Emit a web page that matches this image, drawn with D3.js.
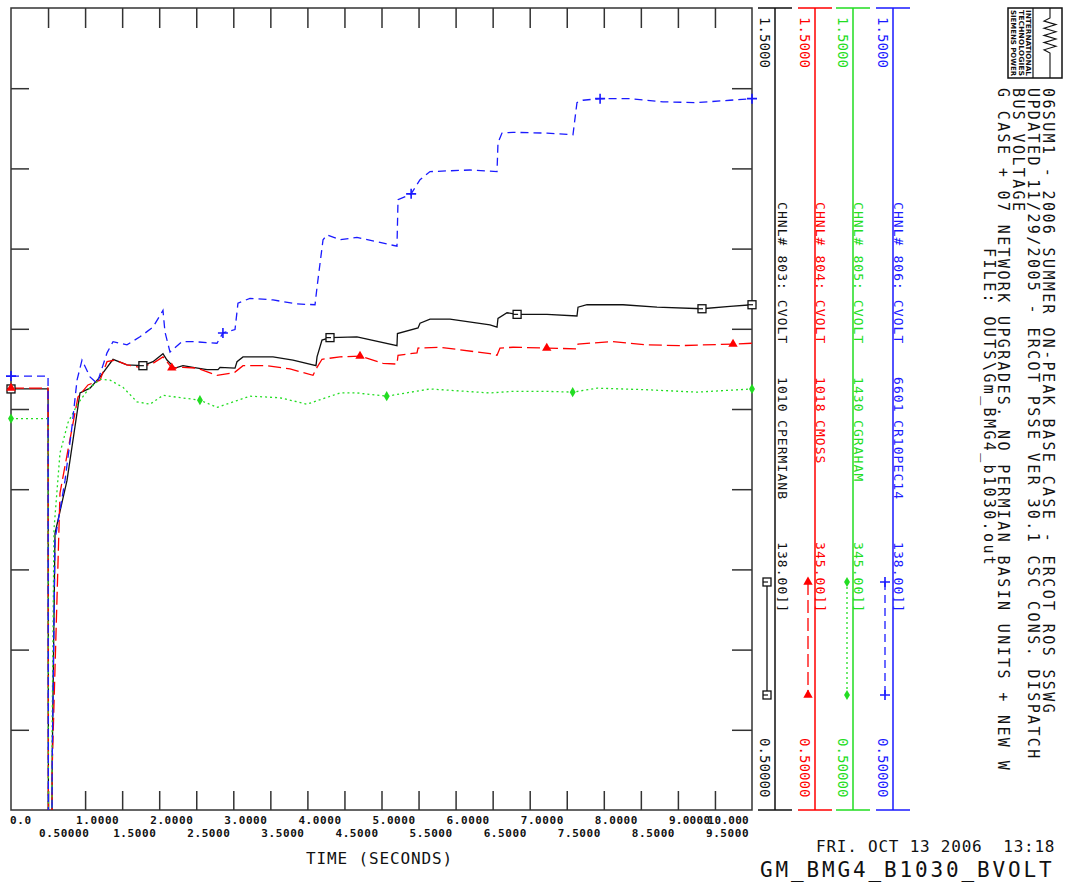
<!DOCTYPE html>
<html lang="en">
<head>
<meta charset="UTF-8">
<title>GM_BMG4_B1030_BVOLT</title>
<script src="https://d3js.org/d3.v7.min.js"></script>
<style>
  body { margin: 0; background: #fff; }
  svg { display: block; }
</style>
</head>
<body>
<svg width="1073" height="884"></svg>
<script>
// ---- data (time in s, voltage in pu) ----
const topTickLabels = ['0.0', '1.0000', '2.0000', '3.0000', '4.0000', '5.0000', '6.0000', '7.0000', '8.0000', '9.0000', '10.000'];
const midTickLabels = ['0.50000', '1.5000', '2.5000', '3.5000', '4.5000', '5.5000', '6.5000', '7.5000', '8.5000', '9.5000'];

const headerLines = [
  '06SUM1 - 2006 SUMMER ON-PEAK BASE CASE - ERCOT ROS SSWG',
  'UPDATED 11/29/2005 - ERCOT PSSE VER 30.1 CSC CONS. DISPATCH',
  'BUS VOLTAGE',
  'G CASE + 07 NETWORK UPGRADES. NO PERMIAN BASIN UNITS + NEW W'
];
const fileLine = 'FILE: OUTS\\Gm_BMG4_b1030.out';
const dateLine = 'FRI. OCT 13 2006  13:18';
const plotName = 'GM_BMG4_B1030_BVOLT';

const channelNames = ['CHNL# 803: CVOLT', 'CHNL# 804: CVOLT', 'CHNL# 805: CVOLT', 'CHNL# 806: CVOLT'];
const busNumbers = ['1010', '1018', '1430', '6601'];
const busNames = ['CPERMIANB', 'CMOSS', 'CGRAHAM', 'CR10PEC14'];
const busKv = ['138.00]]', '345.00]]', '345.00]]', '138.00]]'];
const scaleMax = '1.5000';
const scaleMin = '0.50000';

const chnl803 = [[0,1.025],[0.5,1.025],[0.505,0.40],[0.55,0.40],[0.555,0.55],[0.594,0.845],[0.756,0.911],[0.931,1.020],[1.066,1.026],[1.201,1.040],[1.377,1.062],[1.565,1.055],[1.781,1.054],[1.916,1.059],[2.051,1.069],[2.105,1.061],[2.213,1.051],[2.321,1.054],[2.456,1.052],[2.645,1.049],[2.794,1.049],[2.821,1.052],[3.023,1.051],[3.050,1.059],[3.131,1.065],[3.536,1.065],[3.806,1.061],[4.116,1.054],[4.130,1.065],[4.197,1.086],[4.305,1.089],[4.669,1.090],[5.209,1.079],[5.215,1.094],[5.493,1.101],[5.520,1.107],[5.655,1.112],[5.924,1.112],[6.464,1.105],[6.559,1.102],[6.572,1.113],[6.694,1.120],[6.829,1.118],[7.233,1.118],[7.638,1.116],[7.652,1.127],[7.773,1.130],[8.259,1.130],[8.718,1.127],[9.325,1.125],[9.703,1.128],[10,1.130]];
const chnl804 = [[0,1.026],[0.5,1.026],[0.505,0.40],[0.55,0.40],[0.555,0.55],[0.661,0.895],[0.769,0.949],[0.904,1.015],[1.039,1.030],[1.201,1.036],[1.296,1.059],[1.404,1.061],[1.565,1.055],[1.741,1.052],[1.916,1.057],[2.051,1.065],[2.173,1.051],[2.321,1.052],[2.510,1.051],[2.780,1.042],[2.996,1.045],[3.023,1.046],[3.131,1.054],[3.455,1.054],[3.765,1.050],[4.076,1.042],[4.130,1.052],[4.197,1.062],[4.440,1.065],[4.710,1.066],[5.020,1.057],[5.209,1.056],[5.223,1.067],[5.479,1.070],[5.493,1.076],[5.789,1.077],[6.464,1.069],[6.559,1.067],[6.599,1.076],[6.775,1.077],[7.233,1.076],[7.638,1.075],[7.652,1.081],[8.124,1.084],[8.583,1.080],[9.028,1.079],[9.744,1.081],[10,1.082]];
const chnl805 = [[0,0.988],[0.5,0.988],[0.505,0.40],[0.55,0.40],[0.555,0.60],[0.58,0.85],[0.661,0.945],[0.769,0.983],[0.904,1.007],[1.039,1.024],[1.201,1.037],[1.336,1.036],[1.511,1.027],[1.700,1.009],[1.876,1.006],[2.051,1.017],[2.551,1.011],[2.780,1.002],[3.225,1.016],[3.630,1.014],[3.995,1.006],[4.440,1.020],[4.669,1.020],[5.074,1.016],[5.655,1.025],[6.464,1.020],[6.775,1.022],[7.233,1.022],[7.584,1.021],[7.908,1.026],[8.583,1.024],[9.258,1.021],[10,1.025]];
const chnl806 = [[0,1.041],[0.5,1.041],[0.505,0.40],[0.55,0.40],[0.555,0.55],[0.594,0.837],[0.729,0.911],[0.823,0.978],[0.891,1.036],[0.958,1.061],[1.066,1.040],[1.161,1.032],[1.296,1.070],[1.377,1.084],[1.565,1.080],[1.741,1.090],[1.916,1.102],[2.051,1.123],[2.078,1.096],[2.146,1.071],[2.308,1.084],[2.456,1.084],[2.780,1.082],[2.861,1.095],[3.023,1.099],[3.063,1.132],[3.225,1.138],[3.536,1.136],[3.860,1.131],[4.103,1.130],[4.130,1.152],[4.211,1.211],[4.265,1.217],[4.440,1.211],[4.669,1.214],[5.209,1.203],[5.223,1.261],[5.398,1.268],[5.520,1.286],[5.655,1.296],[6.194,1.298],[6.559,1.296],[6.572,1.332],[6.626,1.344],[6.775,1.345],[7.233,1.344],[7.584,1.342],[7.638,1.382],[7.719,1.385],[7.949,1.387],[8.354,1.387],[8.799,1.383],[9.258,1.382],[9.703,1.385],[10,1.387]];

const markers803 = [0, 1.78, 4.305, 6.83, 9.325, 10];
const markers804 = [0, 2.17, 4.71, 7.23, 9.744];
const markers805 = [0, 2.55, 5.07, 7.58, 10];
const markers806 = [0, 2.86, 5.40, 7.95, 10];

// ---- setup ----
const svg = d3.select('svg');
const plot = { left: 11, right: 752, top: 8, bottom: 810 };
const x = d3.scaleLinear().domain([0, 10]).range([plot.left, plot.right]);
const y = d3.scaleLinear().domain([0.5, 1.5]).range([plot.bottom, plot.top]);
const mono = "'DejaVu Sans Mono', 'Liberation Mono', monospace";

const series = [
  { data: chnl803, marks: markers803, color: '#111111', dash: null, shape: 'square' },
  { data: chnl804, marks: markers804, color: '#ff0000', dash: '13,5', shape: 'triangle' },
  { data: chnl805, marks: markers805, color: '#22dd22', dash: '2,3', shape: 'diamond' },
  { data: chnl806, marks: markers806, color: '#1a1aff', dash: '8,5', shape: 'plus' }
];

// text with a fixed advance per character
function monoText(g, str, px, py, size, adv, opts = {}) {
  const t = g.append('text')
    .attr('font-family', mono)
    .attr('font-size', size)
    .attr('font-weight', opts.weight || 'normal')
    .attr('letter-spacing', (adv - 0.602 * size).toFixed(2))
    .attr('fill', opts.color || '#111')
    .attr('text-anchor', opts.anchor || 'start')
    .style('white-space', 'pre')
    .text(str);
  if (opts.rotate) t.attr('transform', `translate(${px},${py}) rotate(90)`);
  else t.attr('x', px).attr('y', py);
  return t;
}

function drawMarker(g, shape, cx, cy, color) {
  if (shape === 'square') {
    g.append('rect').attr('x', cx - 4).attr('y', cy - 4).attr('width', 8).attr('height', 8)
      .attr('fill', '#fff').attr('stroke', color).attr('stroke-width', 1.3);
    g.append('line').attr('x1', cx - 4).attr('x2', cx + 1).attr('y1', cy).attr('y2', cy)
      .attr('stroke', color).attr('stroke-width', 1.2);
  } else if (shape === 'plus') {
    g.append('path').attr('d', `M${cx - 5},${cy}H${cx + 5}M${cx},${cy - 5}V${cy + 5}`)
      .attr('stroke', color).attr('stroke-width', 1.6);
  } else {
    const type = shape === 'triangle' ? d3.symbolTriangle : d3.symbolDiamond;
    g.append('path').attr('d', d3.symbol().type(type).size(shape === 'triangle' ? 38 : 30)())
      .attr('transform', `translate(${cx},${cy})`).attr('fill', color);
  }
}

function valueAt(data, t) {
  for (let i = data.length - 1; i > 0; i--) {
    const a = data[i - 1], b = data[i];
    if (t >= a[0] && t <= b[0]) {
      if (b[0] === a[0]) return b[1];
      return a[1] + (b[1] - a[1]) * (t - a[0]) / (b[0] - a[0]);
    }
  }
  return data[0][1];
}

// ---- plot frame and ticks ----
svg.append('clipPath').attr('id', 'clip').append('rect')
  .attr('x', plot.left).attr('y', plot.top)
  .attr('width', plot.right - plot.left).attr('height', plot.bottom - plot.top);

const xTickVals = d3.range(1, 20).map(i => i * 0.5);
const yTickVals = d3.range(6, 15).map(i => i / 10);

const axes = svg.append('g').attr('class', 'axes');
axes.append('g').attr('transform', `translate(0,${plot.top})`)
  .call(d3.axisBottom(x).tickValues(xTickVals).tickSize(20).tickFormat(''));
axes.append('g').attr('transform', `translate(0,${plot.bottom})`)
  .call(d3.axisTop(x).tickValues(xTickVals).tickSize(19).tickFormat(''));
axes.append('g').attr('transform', `translate(${plot.left},0)`)
  .call(d3.axisRight(y).tickValues(yTickVals).tickSize(18).tickFormat(''));
axes.append('g').attr('transform', `translate(${plot.right},0)`)
  .call(d3.axisLeft(y).tickValues(yTickVals).tickSize(20).tickFormat(''));
axes.selectAll('.domain').remove();
axes.selectAll('line').attr('stroke', '#333').attr('stroke-width', 1.5);

svg.append('rect')
  .attr('x', plot.left).attr('y', plot.top)
  .attr('width', plot.right - plot.left).attr('height', plot.bottom - plot.top)
  .attr('fill', 'none').attr('stroke', '#333').attr('stroke-width', 1.5);

// x tick labels, two staggered rows (9.0000 and 10.000 touch, as on the original plot)
const labels = svg.append('g');
topTickLabels.forEach((s, i) => {
  let px = x(i) - 9, anchor = 'start';
  if (i === 0) px = x(0) - 1;
  if (i === topTickLabels.length - 1) { px = x(10) - 3; anchor = 'end'; }
  monoText(labels, s, px, 824, 11, i >= 9 ? 6.9 : 7.2, { weight: 'bold', anchor });
});
midTickLabels.forEach((s, i) => {
  monoText(labels, s, x(i + 0.5) - 9, 837, 11, 7.2, { weight: 'bold' });
});
monoText(labels, 'TIME (SECONDS)', 306, 864, 16, 10.5);

// ---- curves ----
const line = d3.line().x(d => x(d[0])).y(d => y(d[1]));
const curves = svg.append('g').attr('clip-path', 'url(#clip)');
series.forEach(s => {
  curves.append('path').datum(s.data)
    .attr('d', line)
    .attr('fill', 'none')
    .attr('stroke', s.color)
    .attr('stroke-width', 1.3)
    .attr('stroke-dasharray', s.dash);
});
const markG = svg.append('g');
series.forEach(s => {
  s.marks.forEach(t => drawMarker(markG, s.shape, x(t), y(valueAt(s.data, t)), s.color));
});

// ---- channel scale panels ----
const panelAxisX = [775, 815, 853, 893];
const legend = svg.append('g');
series.forEach((s, i) => {
  const ax = panelAxisX[i];
  legend.append('path')
    .attr('d', `M${ax - 17},${plot.top}H${ax + 17}M${ax},${plot.top}V${plot.bottom}M${ax - 17},${plot.bottom}H${ax + 17}`)
    .attr('fill', 'none').attr('stroke', s.color).attr('stroke-width', 1.5);
  monoText(legend, scaleMax, ax - 15, 17, 14, 8.5, { color: s.color, rotate: true });
  monoText(legend, scaleMin, ax - 15, 738, 14, 8.5, { color: s.color, rotate: true });
  const lx = ax + (i === 0 ? 3 : 1);
  monoText(legend, channelNames[i], lx, 202, 13, 8.9, { color: s.color, rotate: true });
  monoText(legend, busNumbers[i], lx, 377, 13, 8.9, { color: s.color, rotate: true });
  monoText(legend, busNames[i], lx, 420, 13, 8.9, { color: s.color, rotate: true });
  monoText(legend, busKv[i], lx, 542, 13, 8.9, { color: s.color, rotate: true });
  const sx = ax - (i === 0 ? 8 : i === 1 ? 7 : i === 2 ? 6 : 8);
  legend.append('line').attr('x1', sx).attr('x2', sx).attr('y1', 582).attr('y2', 695)
    .attr('stroke', s.color).attr('stroke-width', 1.3).attr('stroke-dasharray', s.dash);
  drawMarker(legend, s.shape, sx, 582, s.color);
  drawMarker(legend, s.shape, sx, 695, s.color);
});

// ---- header block ----
const head = svg.append('g');
const headX = [1043, 1028, 1013, 998];
headerLines.forEach((s, i) => monoText(head, s, headX[i], 88, 15, 11.4, { rotate: true }));
monoText(head, fileLine, 984, 248, 15, 11.4, { rotate: true });

// logo
const logo = svg.append('g');
logo.append('rect').attr('x', 1008).attr('y', 8).attr('width', 54).attr('height', 70)
  .attr('fill', '#fff').attr('stroke', '#111').attr('stroke-width', 1.5);
logo.append('line').attr('x1', 1033).attr('x2', 1033).attr('y1', 8).attr('y2', 78)
  .attr('stroke', '#111').attr('stroke-width', 1.2);
['SIEMENS POWER', 'TECHNOLOGIES', 'INTERNATIONAL'].forEach((s, i) => {
  logo.append('text')
    .attr('transform', `translate(${1011 + i * 7.5},10) rotate(90)`)
    .attr('font-family', "'DejaVu Sans Condensed', sans-serif")
    .attr('font-weight', 'bold').attr('font-size', 7)
    .attr('textLength', 66).attr('lengthAdjust', 'spacingAndGlyphs')
    .attr('fill', '#111').text(s);
});
const wave = [[1050, 8], [1050, 18]]
  .concat(d3.range(0, 9).map(k => [k % 2 ? 1056 : 1044, 21 + k * 3.6]))
  .concat([[1050, 53], [1050, 78]]);
logo.append('path').attr('d', d3.line()(wave))
  .attr('fill', 'none').attr('stroke', '#111').attr('stroke-width', 1.1);

// footer
monoText(svg, dateLine, 816, 852, 16, 10.4);
monoText(svg, plotName, 760, 877, 21, 15.5);
</script>
</body>
</html>
